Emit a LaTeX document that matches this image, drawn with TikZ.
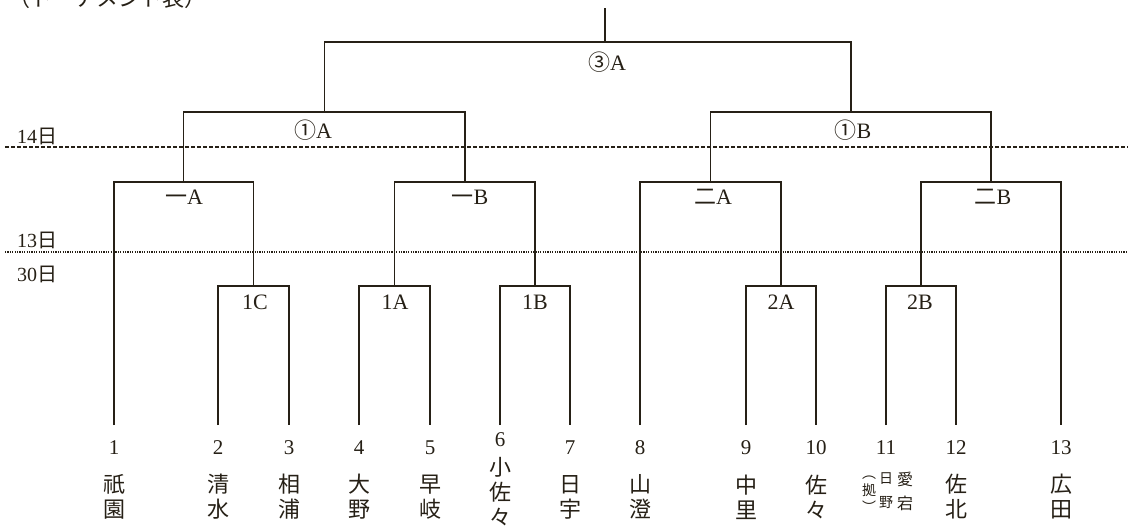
\documentclass[tikz,border=0pt]{standalone}
\usepackage{fontspec}
\setmainfont{Liberation Serif}
\newfontfamily\jp{Noto Sans CJK JP}
\definecolor{ink}{RGB}{38,32,22}
\tikzset{
  bracket/.style={draw=ink, line width=1.6pt},
  daymark/.style={font=\fontsize{20}{20}\selectfont, text=ink, inner sep=0pt},
  seed/.style={font=\fontsize{21}{21}\selectfont, text=ink, inner sep=0pt},
  school/.style={font=\jp\fontsize{22}{25}\selectfont, text=ink, align=center, inner sep=0pt},
  game/.style={font=\fontsize{22}{22}\selectfont, text=ink, inner sep=0pt},
}
\begin{document}
\begin{tikzpicture}
    [ x=1pt, y=-1pt
    , every node/.style={inner sep=0pt}
    ]
\useasboundingbox (0,0) rectangle (1128,528);
\fill[white] (0,0) rectangle (1128,528);
\clip (0,0) rectangle (1128,528);
\node[school, anchor=base west] (caption) at (8,6) {（トーナメント表）};
% day lines
\coordinate (d14a) at (5,147);   \coordinate (d14b) at (1128,147);
\coordinate (d13a) at (5,252);   \coordinate (d13b) at (1128,252);
\draw[ink, line width=1.5pt, dash pattern=on 4pt off 2pt] (d14a) -- (d14b);
\draw[ink, line width=1.2pt, dash pattern=on 1.2pt off 1.2pt] (d13a) -- (d13b);
\node[daymark] (day14) at (37,136) {14{\jp 日}};
\node[daymark] (day13) at (37,240) {13{\jp 日}};
\node[daymark] (day30) at (37,274) {30{\jp 日}};
% teams
\foreach \i/\x/\y in {1/114/448, 2/218/448, 3/289/448, 4/359/448, 5/430/448,
    6/500/440, 7/570/448, 8/640/448, 9/746/448, 10/816/448, 11/886/448,
    12/956/448, 13/1061/448}
  {
  \coordinate (b\i) at (\x,425);
  \node[seed] (n\i) at (\x,\y) {\i};
  }
\node[school] (s1) at (114,497) {祇\\園};
\node[school] (s2) at (218,497) {清\\水};
\node[school] (s3) at (289,497) {相\\浦};
\node[school] (s4) at (359,497) {大\\野};
\node[school] (s5) at (430,497) {早\\岐};
\node[school] (s6) at (500,492) {小\\佐\\々};
\node[school] (s7) at (570,497) {日\\宇};
\node[school] (s8) at (640,497) {山\\澄};
\node[school] (s9) at (746,497) {中\\里};
\node[school] (s10) at (816,497) {佐\\々};
\node[school, font=\jp\fontsize{16}{24}\selectfont] (s11a) at (905,491) {愛\\宕};
\node[school, font=\jp\fontsize{14}{24}\selectfont] (s11b) at (886,491) {日\\野};
\node[school, font=\jp\fontsize{14}{17}\selectfont] (s11c) at (869,494) {︵\\拠\\︶};
\node[school] (s12) at (956,497) {佐\\北};
\node[school] (s13) at (1061,497) {広\\田};
% first round
\coordinate (g1C) at (253.5,286);
\coordinate (g1A) at (394.5,286);
\coordinate (g1B) at (535,286);
\coordinate (g2A) at (781,286);
\coordinate (g2B) at (921,286);
\draw[bracket] (b2) |- (g1C) -| (b3);
\draw[bracket] (b4) |- (g1A) -| (b5);
\draw[bracket] (b6) |- (g1B) -| (b7);
\draw[bracket] (b9) |- (g2A) -| (b10);
\draw[bracket] (b11) |- (g2B) -| (b12);
\node[game] (l1C) at (255,302) {1C};
\node[game] (l1A) at (395,302) {1A};
\node[game] (l1B) at (535,302) {1B};
\node[game] (l2A) at (781,302) {2A};
\node[game] (l2B) at (920,302) {2B};
% second round
\coordinate (k1A) at (183.5,182);
\coordinate (k1B) at (465,182);
\coordinate (k2A) at (710.5,182);
\coordinate (k2B) at (991,182);
\draw[bracket] (b1) |- (k1A) -| (g1C);
\draw[bracket] (g1A) |- (k1B) -| (g1B);
\draw[bracket] (b8) |- (k2A) -| (g2A);
\draw[bracket] (g2B) |- (k2B) -| (b13);
\node[game] (lk1A) at (184,197) {{\jp 一}A};
\node[game] (lk1B) at (470,197) {{\jp 一}B};
\node[game] (lk2A) at (713,197) {{\jp 二}A};
\node[game] (lk2B) at (993,197) {{\jp 二}B};
% semi finals and final
\coordinate (r1A) at (324.5,112);
\coordinate (r1B) at (851,112);
\coordinate (fin) at (605,42);
\coordinate (champ) at (605,8);
\draw[bracket] (k1A) |- (r1A) -| (k1B);
\draw[bracket] (k2A) |- (r1B) -| (k2B);
\draw[bracket] (r1A) |- (fin) -| (r1B);
\draw[bracket] (fin) -- (champ);
\node[game] (lr1A) at (313,130) {{\jp ①}A};
\node[game] (lr1B) at (853,130) {{\jp ①}B};
\node[game] (lfin) at (607,62) {{\jp ③}A};
\end{tikzpicture}
\end{document}
